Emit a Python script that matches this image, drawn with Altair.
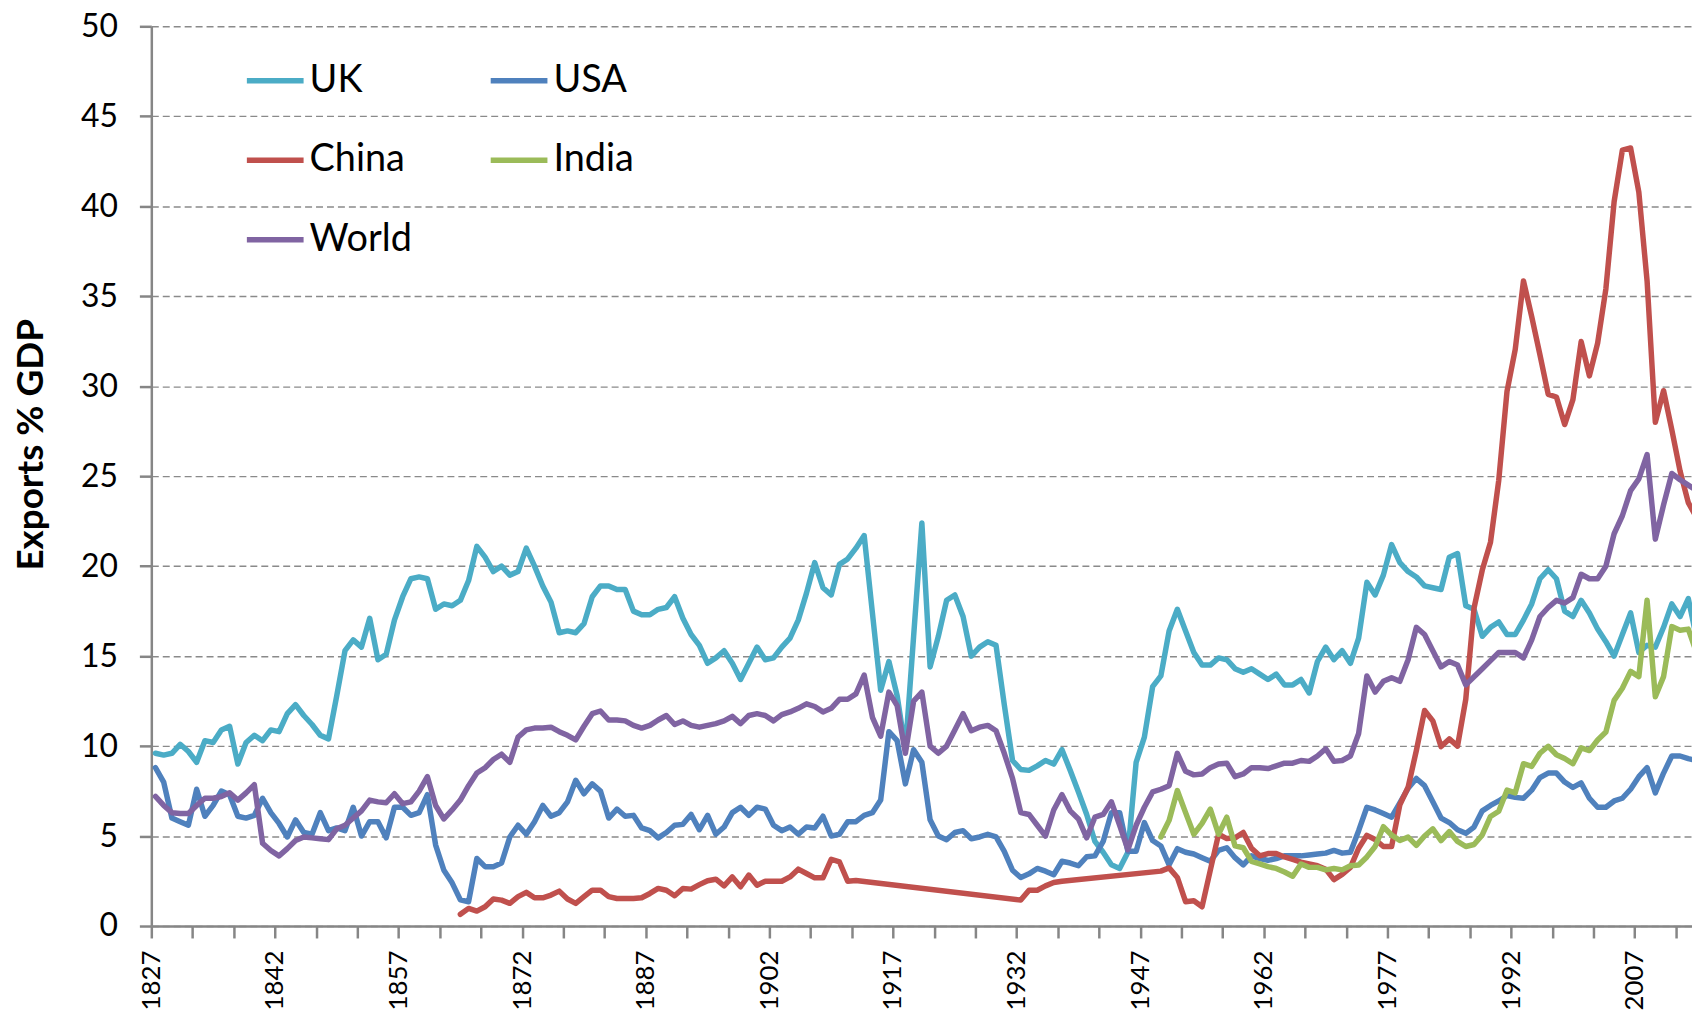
import altair as alt
import pandas as pd

# ---------------- data ----------------
years = list(range(1827, 2015))

uk = [9.6, 9.5, 9.6, 10.1, 9.7, 9.1, 10.3, 10.2, 10.9, 11.1,
      9.0, 10.2, 10.6, 10.3, 10.9, 10.8, 11.8, 12.3, 11.7, 11.2,
      10.6, 10.4, 12.8, 15.3, 15.9, 15.5, 17.1, 14.8, 15.1, 17.0,
      18.3, 19.3, 19.4, 19.3, 17.6, 17.9, 17.8, 18.1, 19.2, 21.1,
      20.5, 19.7, 20.0, 19.5, 19.7, 21.0, 20.0, 18.9, 18.0, 16.3,
      16.4, 16.3, 16.8, 18.3, 18.9, 18.9, 18.7, 18.7, 17.5, 17.3,
      17.3, 17.6, 17.7, 18.3, 17.1, 16.2, 15.6, 14.6, 14.9, 15.3,
      14.6, 13.7, 14.6, 15.5, 14.8, 14.9, 15.5, 16.0, 17.0, 18.5,
      20.2, 18.8, 18.4, 20.1, 20.4, 21.0, 21.7, 17.4, 13.1, 14.7,
      12.8, 9.8, 16.1, 22.4, 14.4, 16.1, 18.1, 18.4, 17.2, 15.0,
      15.5, 15.8, 15.6, 12.3, 9.2, 8.7, 8.65, 8.9, 9.2, 9.0,
      9.8, 8.65, 7.45, 6.2, 4.7, 4.1, 3.4, 3.2, 4.1, 9.1,
      10.5, 13.3, 13.9, 16.4, 17.6, 16.4, 15.2, 14.5, 14.5, 14.9,
      14.8, 14.3, 14.1, 14.3, 14.0, 13.7, 14.0, 13.4, 13.4, 13.7,
      12.95, 14.7, 15.5, 14.8, 15.3, 14.6, 16.0, 19.1, 18.4, 19.5,
      21.2, 20.2, 19.7, 19.4, 18.9, 18.8, 18.7, 20.5, 20.7, 17.8,
      17.6, 16.1, 16.6, 16.9, 16.2, 16.2, 17.0, 17.9, 19.3, 19.8,
      19.3, 17.5, 17.2, 18.1, 17.4, 16.5, 15.8, 15.0, 16.2, 17.4,
      15.2, 15.6, 15.5, 16.6, 17.9, 17.2, 18.2, 16.0]

usa = [8.8, 8.0, 6.0, 5.8, 5.6, 7.6, 6.1, 6.7, 7.5, 7.3,
       6.1, 6.0, 6.15, 7.1, 6.3, 5.7, 4.95, 5.9, 5.2, 5.1,
       6.3, 5.3, 5.45, 5.3, 6.6, 5.0, 5.8, 5.8, 4.9, 6.6,
       6.6, 6.15, 6.3, 7.3, 4.5, 3.1, 2.4, 1.45, 1.35, 3.75,
       3.3, 3.3, 3.5, 4.95, 5.6, 5.1, 5.8, 6.7, 6.1, 6.3,
       6.9, 8.1, 7.35, 7.9, 7.5, 6.0, 6.5, 6.1, 6.15, 5.45,
       5.3, 4.9, 5.2, 5.6, 5.65, 6.2, 5.35, 6.15, 5.1, 5.5,
       6.3, 6.6, 6.15, 6.6, 6.5, 5.6, 5.3, 5.5, 5.1, 5.5,
       5.45, 6.1, 5.0, 5.1, 5.8, 5.8, 6.15, 6.3, 7.0, 10.8,
       10.3, 7.9, 9.8, 9.1, 5.9, 5.0, 4.8, 5.2, 5.3, 4.85,
       4.95, 5.1, 4.95, 4.15, 3.1, 2.7, 2.9, 3.2, 3.05, 2.85,
       3.6, 3.5, 3.35, 3.85, 3.9, 4.7, 6.3, 6.3, 4.15, 4.15,
       5.75, 4.75, 4.45, 3.4, 4.3, 4.1, 4.0, 3.8, 3.6, 4.2,
       4.35, 3.8, 3.4, 3.9, 3.75, 3.65, 3.75, 3.9, 3.9, 3.9,
       3.95, 4.0, 4.05, 4.2, 4.05, 4.1, 5.3, 6.6, 6.45, 6.25,
       6.05, 6.85, 7.65, 8.2, 7.8, 6.9, 6.0, 5.75, 5.35, 5.15,
       5.5, 6.4, 6.7, 6.95, 7.25, 7.15, 7.1, 7.55, 8.25, 8.5,
       8.5, 8.0, 7.7, 7.95, 7.1, 6.6, 6.6, 6.95, 7.1, 7.6,
       8.3, 8.8, 7.4, 8.5, 9.45, 9.45, 9.3, 9.2]

world = [7.2, 6.7, 6.3, 6.25, 6.25, 6.7, 7.1, 7.1, 7.2, 7.4,
         7.0, 7.4, 7.85, 4.6, 4.2, 3.9, 4.3, 4.75, 4.95, 4.9,
         4.85, 4.8, 5.4, 5.6, 6.0, 6.4, 7.0, 6.9, 6.85, 7.35,
         6.8, 6.9, 7.5, 8.3, 6.7, 5.95, 6.45, 7.0, 7.8, 8.5,
         8.8, 9.25, 9.55, 9.1, 10.5, 10.9, 11.0, 11.0, 11.05, 10.8,
         10.6, 10.35, 11.1, 11.8, 11.95, 11.45, 11.45, 11.4, 11.15, 11.0,
         11.15, 11.45, 11.7, 11.2, 11.4, 11.15, 11.05, 11.15, 11.25, 11.4,
         11.65, 11.25, 11.7, 11.8, 11.7, 11.4, 11.75, 11.9, 12.1, 12.35,
         12.2, 11.9, 12.1, 12.6, 12.6, 12.9, 13.95, 11.6, 10.55, 13.0,
         12.25, 9.6, 12.5, 13.0, 10.0, 9.6, 10.0, 10.9, 11.8, 10.85,
         11.05, 11.15, 10.85, 9.6, 8.2, 6.3, 6.2, 5.6, 5.0, 6.45,
         7.3, 6.4, 5.95, 4.9, 6.05, 6.2, 6.9, 5.6, 4.25, 5.6,
         6.6, 7.45, 7.6, 7.8, 9.6, 8.6, 8.4, 8.45, 8.8, 9.0,
         9.05, 8.3, 8.45, 8.8, 8.8, 8.75, 8.9, 9.05, 9.05, 9.2,
         9.15, 9.45, 9.85, 9.15, 9.2, 9.45, 10.7, 13.9, 13.0, 13.6,
         13.8, 13.6, 14.8, 16.6, 16.2, 15.3, 14.4, 14.7, 14.5, 13.4,
         13.85, 14.3, 14.75, 15.2, 15.2, 15.2, 14.9, 15.9, 17.2, 17.7,
         18.1, 17.95, 18.25, 19.55, 19.3, 19.3, 20.0, 21.8, 22.8, 24.2,
         24.85, 26.2, 21.5, 23.4, 25.15, 24.8, 24.5, 24.2]

china_years = list(range(1864, 1913)) + list(range(1932, 1938)) + list(range(1949, 2015))
china = [0.65, 0.98, 0.83, 1.07, 1.5, 1.44, 1.26, 1.63, 1.87, 1.57,
         1.57, 1.72, 1.94, 1.5, 1.26, 1.63, 1.99, 1.99, 1.63, 1.53,
         1.53, 1.53, 1.57, 1.81, 2.09, 1.99, 1.68, 2.09, 2.05, 2.3,
         2.52, 2.6, 2.23, 2.73, 2.18, 2.83, 2.27, 2.49, 2.49, 2.49,
         2.73, 3.16, 2.92, 2.68, 2.68, 3.71, 3.56, 2.49, 2.53,
         1.44, 1.99, 1.99, 2.23, 2.42, 2.49,
         3.05, 3.23, 2.7, 1.35, 1.4, 1.07, 3.1, 5.1, 4.86, 4.9,
         5.2, 4.32, 3.9, 4.03, 4.03, 3.84, 3.7, 3.55, 3.45, 3.35,
         3.16, 2.58, 2.87, 3.26, 4.32, 5.04, 4.81, 4.42, 4.42, 6.74,
         7.71, 9.75, 11.98, 11.4, 9.97, 10.4, 10.0, 12.6, 17.67, 19.78,
         21.33, 24.77, 29.7, 32.04, 35.85, 33.86, 31.74, 29.55, 29.4, 27.87,
         29.25, 32.48, 30.57, 32.39, 35.41, 40.25, 43.12, 43.24, 40.78, 35.85,
         27.99, 29.75, 27.58, 25.29, 23.53, 22.7]

india_years = list(range(1949, 2015))
india = [4.95, 5.87, 7.53, 6.3, 5.1, 5.7, 6.5, 5.1, 6.05, 4.45,
         4.35, 3.59, 3.45, 3.3, 3.2, 3.0, 2.77, 3.45, 3.26, 3.26,
         3.12, 3.2, 3.12, 3.35, 3.39, 3.84, 4.42, 5.52, 5.06, 4.75,
         4.94, 4.48, 5.0, 5.4, 4.75, 5.25, 4.7, 4.42, 4.53, 5.06,
         6.09, 6.38, 7.55, 7.4, 9.02, 8.87, 9.6, 9.99, 9.52, 9.31,
         9.02, 9.9, 9.75, 10.34, 10.78, 12.54, 13.21, 14.15, 13.86, 18.11,
         12.74, 13.86, 16.64, 16.44, 16.5, 15.2]

# legend fills column by column: UK, China, World | USA, India
legend_order = ["UK", "China", "World", "USA", "India"]
legend_colors = ["#4BACC6", "#C0504D", "#8064A2", "#4F81BD", "#9BBB59"]

y_ticks = list(range(0, 51, 5))
x_ticks = [1826.5 + 5 * k for k in range(38)]

# ---------------- table (drawing order UK, USA, China, India, World) ----------------
rows = []
for name, yrs, vals in [("UK", years, uk), ("USA", years, usa),
                        ("China", china_years, china),
                        ("India", india_years, india),
                        ("World", years, world)]:
    for y, v in zip(yrs, vals):
        rows.append({"year": y, "value": v, "series": name})
df = pd.DataFrame(rows)

FONT = "Lato"
GRAY = "#868686"

chart = alt.Chart(df).mark_line(
    strokeWidth=5.5, clip=True, strokeJoin="round", strokeCap="round"
).encode(
    x=alt.X("year:Q",
            scale=alt.Scale(domain=[1826.5, 2013.45], nice=False, zero=False),
            axis=alt.Axis(values=x_ticks,
                          labelExpr="(round(datum.value - 1826.5) % 15 == 0) ? format(datum.value + 0.5, 'd') : ''",
                          labelAngle=270, labelFontSize=26, labelFont=FONT,
                          labelColor="black", labelPadding=12,
                          labelOverlap=False, labelFlush=False,
                          tickSize=12, tickColor=GRAY, tickWidth=2.5,
                          domainColor=GRAY, domainWidth=2.5,
                          grid=False, title=None)),
    y=alt.Y("value:Q",
            scale=alt.Scale(domain=[0, 50], nice=False),
            axis=alt.Axis(values=y_ticks, labelFontSize=32, labelFont=FONT,
                          labelColor="black", labelPadding=22,
                          tickSize=12, tickColor=GRAY, tickWidth=2.5,
                          domainColor=GRAY, domainWidth=2.5,
                          grid=True, gridColor="#8a8a8a", gridDash=[7, 4],
                          gridWidth=1.4,
                          title="Exports % GDP", titleFont=FONT,
                          titleFontSize=37, titleFontWeight="bold",
                          titleColor="black", titleAngle=270,
                          titleX=-120, titleY=420,
                          titleAlign="center", titleBaseline="middle")),
    color=alt.Color("series:N",
                    scale=alt.Scale(domain=legend_order, range=legend_colors),
                    legend=alt.Legend(orient="none", legendX=93, legendY=23,
                                      columns=2, symbolType="stroke",
                                      symbolSize=3249, symbolStrokeWidth=5.5,
                                      labelFontSize=38, labelFont=FONT,
                                      labelColor="black", labelOffset=3,
                                      columnPadding=68, rowPadding=29,
                                      padding=0, title=None)),
).properties(
    width=1548, height=904,
    padding={"left": 144, "top": 16, "right": 0, "bottom": 85},
    autosize=alt.AutoSizeParams(type="none"),
    background="white",
).configure_view(stroke=None)

chart.save("out.html", embed_options={"renderer": "svg", "actions": False})
